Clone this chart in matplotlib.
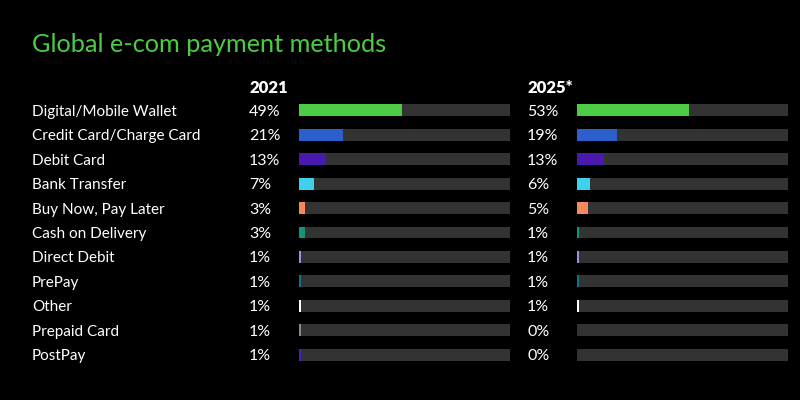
import matplotlib
matplotlib.use('Agg')
import matplotlib.pyplot as plt
from matplotlib.transforms import blended_transform_factory

# data
methods = ['Digital/Mobile Wallet', 'Credit Card/Charge Card', 'Debit Card', 'Bank Transfer',
           'Buy Now, Pay Later', 'Cash on Delivery', 'Direct Debit', 'PrePay', 'Other',
           'Prepaid Card', 'PostPay']
share_2021 = [49, 21, 13, 7, 3, 3, 1, 1, 1, 1, 1]
share_2025 = [53, 19, 13, 6, 5, 1, 1, 1, 1, 0, 0]
years = ['2021', '2025*']
colors = ['#4ccc44', '#2d5fcc', '#4a1aae', '#3fd0ee', '#f58a5a', '#12967a',
          '#9b8fe0', '#1a6f8a', '#ffffff', '#8a8a8a', '#4b22b8']

plt.rcParams['font.family'] = ['Lato', 'DejaVu Sans']
bg = '#000000'
track = '#333333'

fig = plt.figure(figsize=(8, 4), dpi=100, facecolor=bg)
fig.text(32 / 800, 1 - 42 / 400, 'Global e-com payment methods', color='#4ccc44',
         fontsize=18.2, va='center_baseline', ha='left')

panels = [(share_2021, 299, 249), (share_2025, 577, 527)]
n = len(methods)
for k, (vals, x0, xlab) in enumerate(panels):
    ax = fig.add_axes([x0 / 800, 1 - 367 / 400, 211 / 800, 269 / 400])
    ax.set_facecolor(bg)
    ax.set_xlim(0, 100)
    ax.set_ylim(n - 0.5, -0.5)
    ax.axis('off')
    ypos = list(range(n))
    ax.barh(ypos, [100] * n, height=0.49, color=track, linewidth=0)
    ax.barh(ypos, vals, height=0.49, color=colors, linewidth=0)
    tr = blended_transform_factory(fig.transFigure, ax.transData)
    for i, v in enumerate(vals):
        ax.text(xlab / 800, i, f'{v}%', transform=tr, color='white', fontsize=11.5,
                va='center_baseline', ha='left')
    ax.text(xlab / 800, -0.95, years[k], transform=tr, color='white', fontsize=12,
            fontweight='heavy', va='center_baseline', ha='left')
    if k == 0:
        for i, m in enumerate(methods):
            ax.text(32 / 800, i, m, transform=tr, color='white', fontsize=11,
                    va='center_baseline', ha='left')

fig.savefig('out.png', dpi=100, facecolor=bg)
